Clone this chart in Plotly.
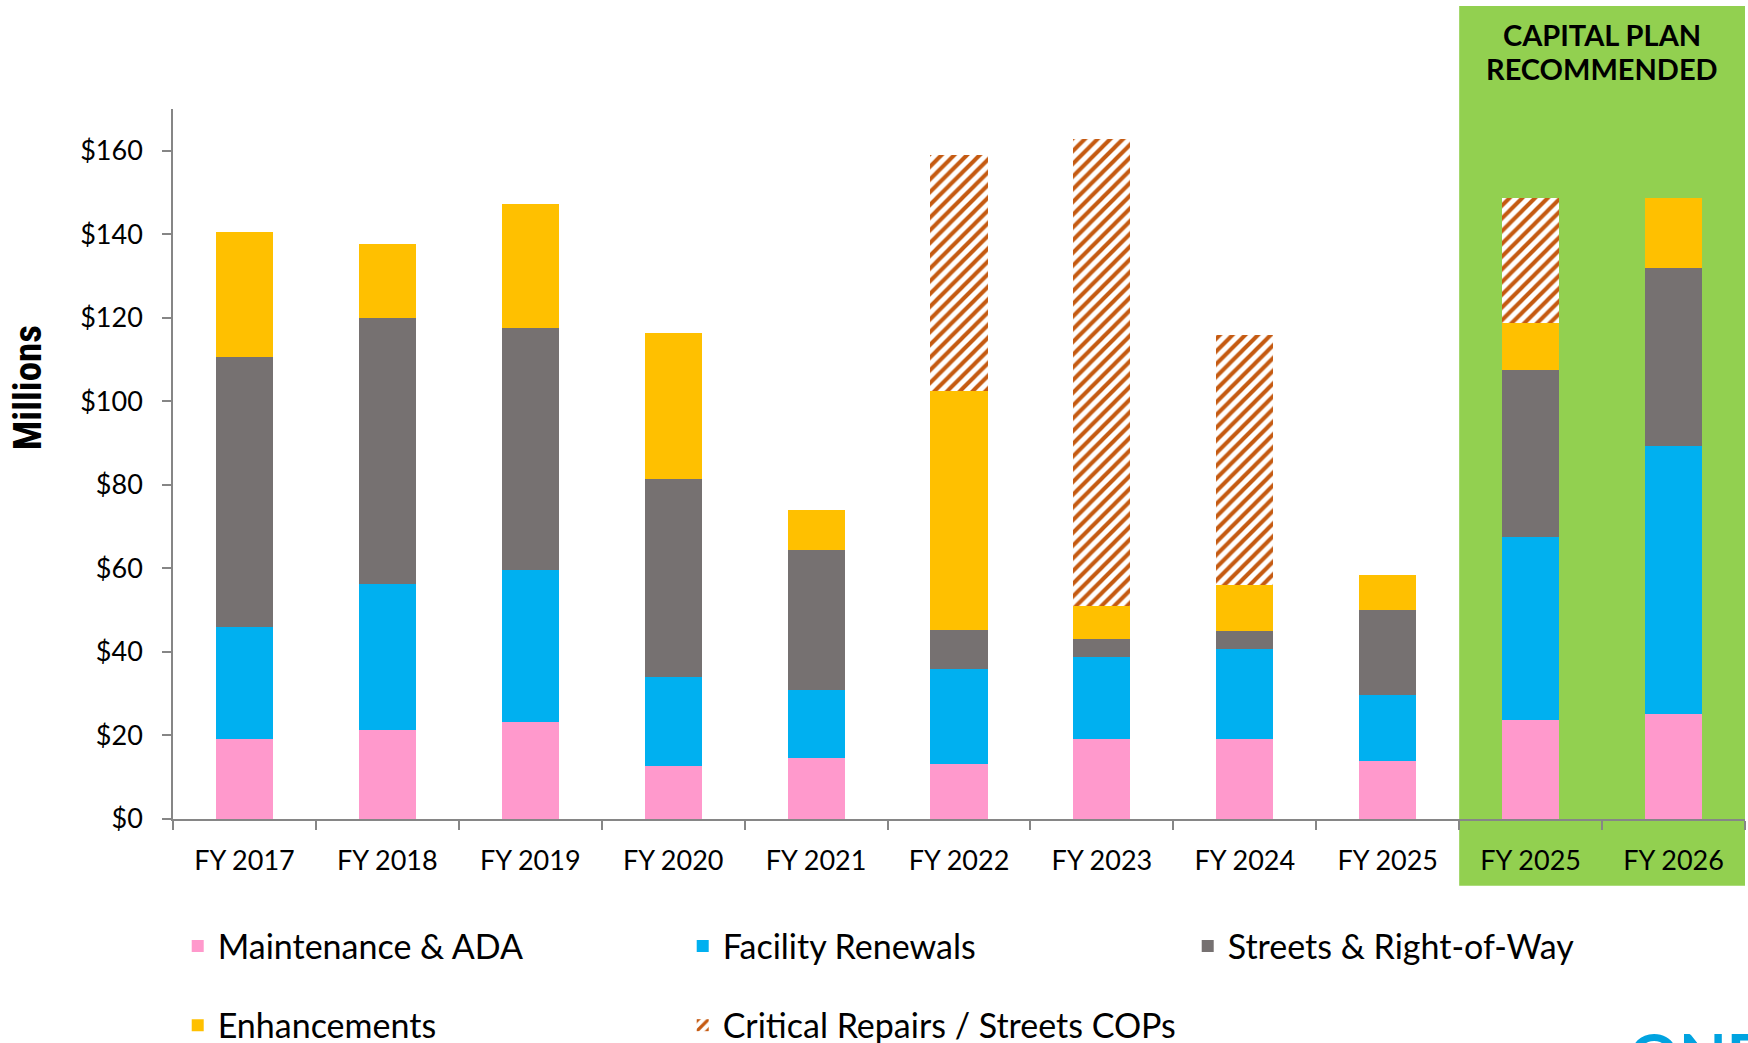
import plotly.graph_objects as go

# ---- data (millions of dollars) ----
categories = ["FY 2017", "FY 2018", "FY 2019", "FY 2020", "FY 2021", "FY 2022",
              "FY 2023", "FY 2024", "FY 2025", "FY 2025", "FY 2026"]
maintenance_ada = [19.2, 21.3, 23.2, 12.8, 14.7, 13.1, 19.2, 19.2, 13.9, 23.7, 25.1]
facility_renewals = [26.7, 35.0, 36.5, 21.3, 16.2, 22.9, 19.7, 21.6, 15.7, 43.8, 64.2]
streets_row = [64.8, 63.7, 57.9, 47.2, 33.4, 9.3, 4.3, 4.3, 20.5, 40.0, 42.7]
enhancements = [29.8, 17.6, 29.6, 35.0, 9.6, 57.1, 7.7, 10.9, 8.3, 11.2, 16.8]
critical_repairs = [0, 0, 0, 0, 0, 56.5, 112.0, 60.0, 0, 30.1, 0]
y_ticks = [0, 20, 40, 60, 80, 100, 120, 140, 160]

FONT = "Lato, 'Open Sans', sans-serif"
x_pos = list(range(len(categories)))

fig = go.Figure()

series = [
    ("Maintenance & ADA", maintenance_ada, "#FF99CC", "legend"),
    ("Facility Renewals", facility_renewals, "#00B0F0", "legend"),
    ("Streets & Right-of-Way", streets_row, "#767171", "legend"),
    ("Enhancements", enhancements, "#FFC000", "legend2"),
]
for name, vals, color, lg in series:
    fig.add_trace(go.Bar(
        x=x_pos, y=vals, name=name, width=0.4,
        marker=dict(color=color, line=dict(width=0)),
        legend=lg,
    ))

fig.add_trace(go.Bar(
    x=x_pos, y=critical_repairs, name="Critical Repairs / Streets COPs", width=0.4,
    marker=dict(color="white", line=dict(width=0),
                pattern=dict(shape="/", fgcolor="#C55A11", bgcolor="white",
                             size=9, solidity=0.45, fillmode="replace")),
    legend="legend2",
))

axis_gray = "#868686"
legend_common = dict(
    orientation="h", traceorder="normal",
    xref="paper", x=0.003, xanchor="left", yref="container", yanchor="middle",
    entrywidth=460, entrywidthmode="pixels",
    font=dict(family=FONT, size=34, color="black"),
    bgcolor="rgba(0,0,0,0)",
)

fig.update_layout(
    width=1748, height=1043,
    margin=dict(l=173, r=3, t=109, b=224),
    barmode="stack",
    paper_bgcolor="white", plot_bgcolor="white",
    font=dict(family=FONT, color="black", size=27),
    xaxis=dict(
        range=[-0.5, 10.5], tickmode="array", tickvals=x_pos, ticktext=categories,
        ticks="", showgrid=False, zeroline=False,
        showline=True, linecolor=axis_gray, linewidth=1.5,
        tickfont=dict(family=FONT, size=27, color="black"),
        ticklabelstandoff=17,
        minor=dict(tickmode="linear", tick0=-0.5, dtick=1, ticks="outside",
                   ticklen=9, tickwidth=1.5, tickcolor=axis_gray, showgrid=False),
    ),
    yaxis=dict(
        range=[0, 170], tickmode="array", tickvals=y_ticks,
        ticktext=[f"${v}" for v in y_ticks],
        showgrid=False, zeroline=False,
        showline=True, linecolor=axis_gray, linewidth=1.5,
        ticks="outside", ticklen=9, tickwidth=1.5, tickcolor=axis_gray,
        tickfont=dict(family=FONT, size=27, color="black"),
        ticklabelstandoff=14,
    ),
    legend=dict(legend_common, y=0.0925),
    legend2=dict(legend_common, y=0.0167),
    showlegend=True,
)

# green "capital plan recommended" panel
fig.add_shape(type="rect", xref="x domain", yref="paper",
              x0=9 / 11, x1=1.0, y0=-0.094, y1=1.145,
              fillcolor="#92D050", line=dict(width=0), layer="below")

for txt, ypos in [("CAPITAL PLAN", 1.1043), ("RECOMMENDED", 1.0573)]:
    fig.add_annotation(
        text=f"<b>{txt}</b>", xref="x", yref="paper",
        x=9.5, y=ypos, xanchor="center", yanchor="middle", showarrow=False,
        font=dict(family=FONT, size=29, color="black"), align="center",
    )

fig.add_annotation(
    text="<b>Millions</b>", xref="paper", yref="paper",
    x=-0.0921, y=0.607, xanchor="center", yanchor="middle", textangle=-90,
    showarrow=False,
    font=dict(family="'Liberation Sans Narrow', 'Roboto Condensed', Roboto, sans-serif",
              size=39, color="black"),
)

# partially visible logo text at bottom right
fig.add_annotation(
    text="<b>ONE</b>", xref="paper", yref="paper",
    x=0.925, y=-0.331, xanchor="left", yanchor="middle", showarrow=False,
    font=dict(family=FONT, size=62, color="#00A3E0"),
)

fig.write_html("out.html")
